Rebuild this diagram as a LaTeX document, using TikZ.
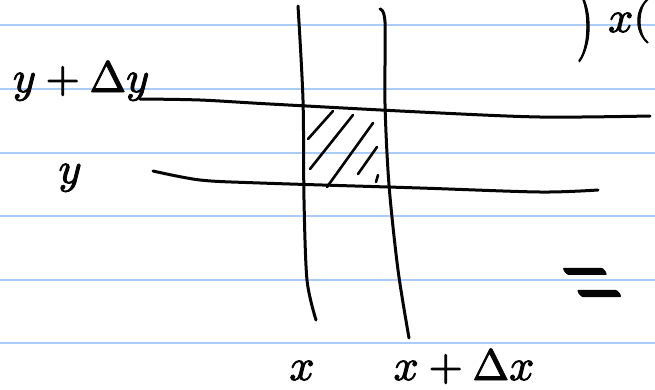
\documentclass[tikz,border=0pt]{standalone}
\usepackage{amsmath}
\usepackage{unicode-math}
\setmathfont{Latin Modern Math}
\setmathfont{Latin Modern Math}[version=inky,FakeBold=2.2]
\usepackage{xcolor}
\usepackage{tikz}
\usetikzlibrary{calc}
\definecolor{RuleBlue}{HTML}{A9CDF6}
\definecolor{InkBlack}{HTML}{050505}

\begin{document}
\begin{tikzpicture}[x=1pt,y=-1pt,
  ink/.style={InkBlack,line width=3pt,line cap=round,line join=round},
  hatch/.style={InkBlack,line width=2.6pt,line cap=round},
  lbl/.style={font=\fontsize{44}{48}\selectfont\mathversion{inky},text=InkBlack,inner sep=0pt}]
  \useasboundingbox (0,0) rectangle (655,389);
  \clip (0,0) rectangle (655,389);
  \fill[white] (0,0) rectangle (655,389);
  % ruled paper
  \foreach \ry in {25,89,153,216,280,343}
    \draw[RuleBlue,line width=1.3pt] (0,\ry) -- (655,\ry);
  % the two verticals x and x+dx
  \draw[ink] plot[smooth] coordinates {(298,6) (303,100) (304,200) (307,280) (316,320)};
  \draw[ink] plot[smooth] coordinates {(380,9) (385,22) (385,104) (389,185) (398,270) (409,338)};
  % the two horizontals y+dy and y
  \draw[ink] plot[smooth] coordinates {(140,99) (200,100) (270,104) (420,112) (540,117) (650,116)};
  \draw[ink] plot[smooth] coordinates {(153,171) (200,180) (260,183) (420,188) (540,192) (598,190)};
  % hatching of the small cell
  \draw[hatch] (308,139) -- (333,111);
  \draw[hatch] (310,169) -- (353,115);
  \draw[hatch] (327,187) -- (373,123);
  \draw[hatch] (358,174) -- (377,147);
  \draw[hatch] (376,182) -- (378,175);
  % labels
  \node[lbl,anchor=base] (ytop) at (81,92) {$y+\Delta y$};
  \node[lbl,anchor=base] (ybot) at (70,183) {$y$};
  \node[lbl,anchor=base] (xleft) at (302,380) {$x$};
  \node[lbl,anchor=base] (xright) at (464,380) {$x+\Delta x$};
  \node[lbl,anchor=base] (rparen) at (585,44) {\scalebox{1}[1.6]{$)$}};
  \node[lbl,anchor=base west] (xcut) at (608,32) {$x($};
  \node[lbl,font=\fontsize{60}{64}\selectfont\mathversion{inky},xslant=-0.65] (eqsign) at (597,290) {\scalebox{1}[1.9]{$=$}};
\end{tikzpicture}
\end{document}
